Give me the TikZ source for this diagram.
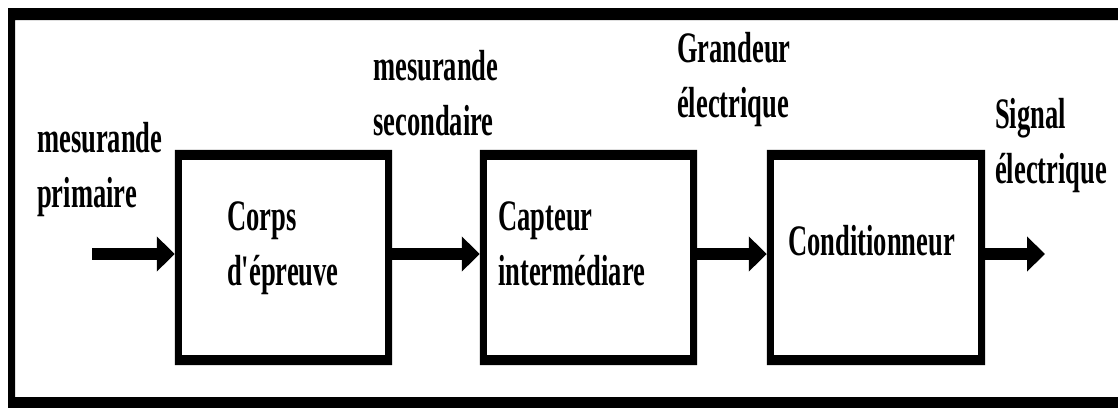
\documentclass[tikz,border=0pt]{standalone}
\usepackage{fontspec}
\newfontfamily\lblfont[FakeStretch=0.61]{Liberation Serif}
\usetikzlibrary{arrows.meta}
\newcommand\twolines[2]{\vtop{\hbox{#1}\hbox{#2}}}
\tikzset{
  lbl/.style={anchor=base west, inner sep=0pt, font=\lblfont\bfseries\fontsize{43.5}{55}\selectfont},
  blockbox/.style={minimum width=217pt, minimum height=215pt, inner sep=0pt, draw=none},
  flow/.style={line width=12pt, -{Triangle[length=18pt,width=34pt]}}
}
\newcommand\myblockframe[1]{\fill[even odd rule] (#1.north west) rectangle (#1.south east)
  ([xshift=7pt,yshift=-10pt]#1.north west) rectangle ([xshift=-7pt,yshift=10pt]#1.south east);}
\begin{document}
\begin{tikzpicture}[x=1pt,y=-1pt]
\useasboundingbox (0,0) rectangle (1118,407);
\fill[white] (0,0) rectangle (1118,407);
\begin{scope}
\clip (0,0) rectangle (1118,407);
\fill[even odd rule] (8,8) rectangle (1135,412) (15,20) rectangle (1125,397);
\end{scope}
% blocks
\node[blockbox] (b1) at (283.5,257.5) {};
\node[blockbox] (b2) at (588.5,257.5) {};
\node[blockbox, minimum width=218pt] (b3) at (876,257.5) {};
\myblockframe{b1}
\myblockframe{b2}
\myblockframe{b3}
% texts inside blocks
\node[lbl] (t1) at (227,230) {\twolines{Corps}{d'épreuve}};
\node[lbl] (t2) at (498,230) {\twolines{Capteur}{intermédiare}};
\node[lbl] (t3) at (788,255) {Conditionneur};
% signal labels
\node[lbl] (l1) at (37,152) {\twolines{mesurande}{primaire}};
\node[lbl] (l2) at (373,80) {\twolines{mesurande}{secondaire}};
\node[lbl] (l3) at (677,62) {\twolines{Grandeur}{électrique}};
\node[lbl] (l4) at (995,128) {\twolines{Signal}{électrique}};
% arrows
\coordinate (in) at (92,254);
\coordinate (out) at (1045,254);
\draw[flow] (in) -- (in -| b1.west);
\draw[flow] (in -| b1.east) -- (in -| b2.west);
\draw[flow] (in -| b2.east) -- (in -| b3.west);
\draw[flow] (in -| b3.east) -- (out);
\end{tikzpicture}
\end{document}
